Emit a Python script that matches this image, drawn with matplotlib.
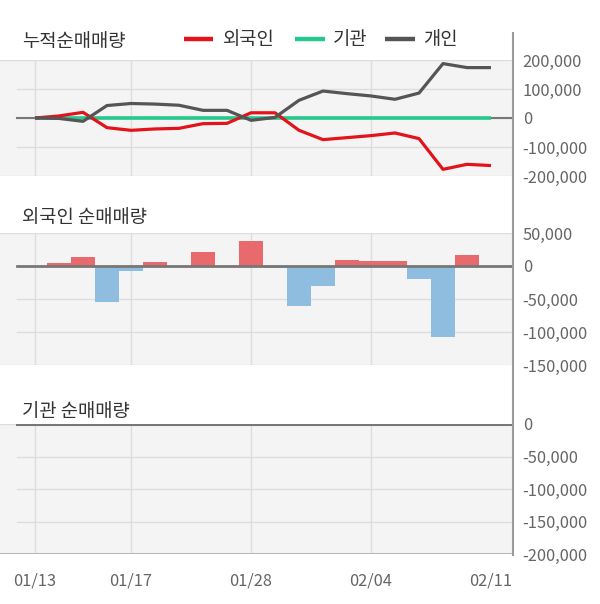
import matplotlib
matplotlib.use("Agg")
import matplotlib.pyplot as plt
from matplotlib.lines import Line2D
import numpy as np

plt.rcParams['font.family'] = ['Noto Sans CJK KR', 'DejaVu Sans']

# ---- data ----
dates = ["01/13", "01/14", "01/15", "01/16", "01/17", "01/20", "01/21", "01/22", "01/23",
         "01/28", "01/29", "01/30", "01/31", "02/03", "02/04", "02/05", "02/06", "02/07",
         "02/10", "02/11"]
tick_dates = ["01/13", "01/17", "01/28", "02/04", "02/11"]
grid_dates = ["01/13", "01/17", "01/28", "02/04"]

cum_foreign = [0, 7000, 19600, -33300, -42500, -37800, -35600, -19500, -18400, 18000,
               18000, -42400, -74600, -67700, -60800, -51700, -71000, -177000, -159700, -164000]
cum_inst = [0] * 20
cum_indiv = [0, -1500, -11500, 43000, 50000, 48000, 44000, 26400, 26400, -8000,
             2000, 61000, 93000, 84000, 76000, 64500, 86000, 187600, 173800, 173800]

daily_foreign = [0, 4000, 13400, -54000, -7700, 5700, 0, 21000, 0, 38000,
                 -3000, -60000, -31000, 8800, 7200, 7200, -19000, -107000, 16300]
daily_inst = [0] * 19

top_ticks = [200000, 100000, 0, -100000, -200000]
mid_ticks = [50000, 0, -50000, -100000, -150000]
bot_ticks = [0, -50000, -100000, -150000, -200000]

# ---- style ----
W, H = 600, 604
RED = '#e3131b'
GREEN = '#25c98c'
GRAY = '#555555'
BAR_POS = '#e96a6c'
BAR_NEG = '#8fbde0'
BG = '#f4f4f4'
GRID = '#dddddd'
ZERO = '#777777'
TXT = '#333333'
TICK = '#666666'

fig = plt.figure(figsize=(W / 100, H / 100), dpi=100)
fig.patch.set_facecolor('white')

x_left_px, x_right_px = 0, 513
x0_px, step_px = 35, 24
xlim = ((x_left_px - x0_px) / step_px, (x_right_px - x0_px) / step_px)
grid_x0 = 17 / (x_right_px - x_left_px)


def make_ax(top_px, bot_px):
    return fig.add_axes([x_left_px / W, 1 - bot_px / H,
                         (x_right_px - x_left_px) / W, (bot_px - top_px) / H])


def style(ax, ticks, ylim):
    ax.set_facecolor(BG)
    ax.set_xlim(*xlim)
    ax.set_ylim(*ylim)
    for s in ax.spines.values():
        s.set_visible(False)
    ax.yaxis.tick_right()
    ax.set_yticks(ticks)
    ax.set_yticklabels([f"{t:,}" for t in ticks])
    ax.tick_params(axis='y', length=0, pad=7, labelsize=11.8, labelcolor=TICK)
    ax.tick_params(axis='x', length=0)
    for t in ticks:
        if t in ylim:
            ax.axhline(t, color=GRID, lw=1, zorder=1)
        else:
            ax.axhline(t, xmin=grid_x0, color=GRID, lw=1, zorder=1)
    for d in grid_dates:
        ax.axvline(dates.index(d), color=GRID, lw=1, zorder=1)


idx = np.arange(len(dates))

# top: cumulative
ax1 = make_ax(60, 176)
style(ax1, top_ticks, (-200000, 200000))
ax1.set_xticks([])
ax1.axhline(0, xmin=grid_x0, color=ZERO, lw=1.5, zorder=2)
ax1.plot(idx, cum_inst, color=GREEN, lw=2.6, zorder=3, solid_capstyle='butt')
ax1.plot(idx, cum_foreign, color=RED, lw=2.3, zorder=4, solid_capstyle='butt')
ax1.plot(idx, cum_indiv, color=GRAY, lw=2.3, zorder=5, solid_capstyle='butt')

# middle: foreign daily
ax2 = make_ax(233, 365)
style(ax2, mid_ticks, (-150000, 50000))
ax2.set_xticks([])
bidx = np.arange(len(daily_foreign))
ax2.bar(bidx, daily_foreign, width=0.96,
        color=[BAR_POS if v >= 0 else BAR_NEG for v in daily_foreign], zorder=2)
ax2.axhline(0, xmin=grid_x0, color=ZERO, lw=2, zorder=3)

# bottom: institution daily
ax3 = make_ax(424, 554)
style(ax3, bot_ticks, (-200000, 0))
bidx3 = np.arange(len(daily_inst))
ax3.bar(bidx3, daily_inst, width=0.96,
        color=[BAR_POS if v >= 0 else BAR_NEG for v in daily_inst], zorder=2)
ax3.axhline(0, xmin=grid_x0, color=ZERO, lw=2.2, zorder=3)
ax3.axhline(-200000, color='#b0b0b0', lw=2, zorder=3)
ax3.set_xticks([dates.index(d) for d in tick_dates])
ax3.set_xticklabels(tick_dates)
ax3.tick_params(axis='x', length=0, pad=13, labelsize=11.8, labelcolor=TICK)

# right vertical axis line
fig.add_artist(Line2D([513 / W, 513 / W], [1 - 33 / H, 1 - 555 / H],
                      transform=fig.transFigure, color='#9a9a9a', lw=1.5))

# titles
fig.text(22 / W, 1 - 41 / H, "누적순매매량", fontsize=13.5, color=TXT, va='center', ha='left')
fig.text(22 / W, 1 - 217 / H, "외국인 순매매량", fontsize=13.5, color=TXT, va='center', ha='left')
fig.text(22 / W, 1 - 411 / H, "기관 순매매량", fontsize=13.5, color=TXT, va='center', ha='left')

# legend
leg_y = 1 - 39 / H
legend = [(184, 213, 223, RED, "외국인"), (295, 325, 333, GREEN, "기관"), (385, 415, 423, GRAY, "개인")]
for xs, xe, xt, c, lab in legend:
    fig.add_artist(Line2D([xs / W, xe / W], [leg_y, leg_y], transform=fig.transFigure,
                          color=c, lw=3.2, solid_capstyle='butt'))
    fig.text(xt / W, leg_y, lab, fontsize=13.5, color=TXT, va='center', ha='left')

fig.savefig("out.png", dpi=100, facecolor='white')
